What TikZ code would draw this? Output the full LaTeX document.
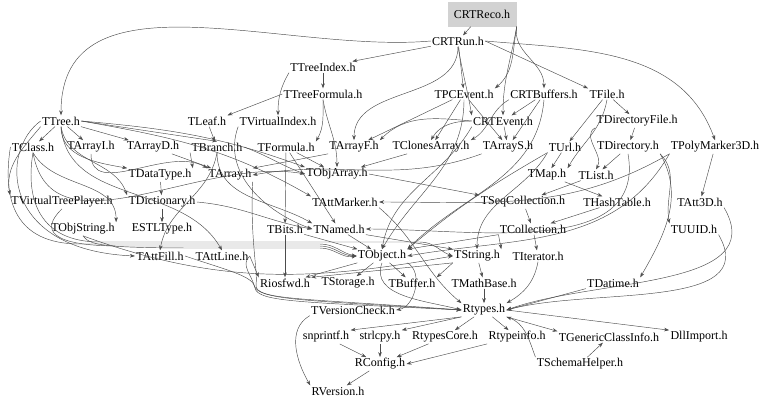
\documentclass[tikz,border=0pt]{standalone}
\usepackage{fontspec}
\setmainfont{Liberation Serif}
\usetikzlibrary{arrows.meta}
\begin{document}
\begin{tikzpicture}[x=1pt,y=-1pt,
  hdr/.style={inner sep=1.2pt, font=\fontsize{12}{13}\selectfont},
  e/.style={draw=black!70, line width=0.45pt, -{Stealth[length=5pt,width=3.6pt]}}]
\useasboundingbox (0,0) rectangle (768,405);
% nodes
\node[hdr, fill=gray!35, minimum width=69pt, minimum height=25pt] (crtreco) at (482,14) {CRTReco.h};
\node[hdr] (crtrun) at (458,41) {CRTRun.h};
\node[hdr] (ttreeindex) at (323,67) {TTreeIndex.h};
\node[hdr] (ttreeformula) at (323,94) {TTreeFormula.h};
\node[hdr] (tpcevent) at (464,94) {TPCEvent.h};
\node[hdr] (crtbuffers) at (544,94) {CRTBuffers.h};
\node[hdr] (tfile) at (607,94) {TFile.h};
\node[hdr] (ttree) at (61,121) {TTree.h};
\node[hdr] (tleaf) at (207,121) {TLeaf.h};
\node[hdr] (tvirtualindex) at (278,121) {TVirtualIndex.h};
\node[hdr] (crtevent) at (503,121) {CRTEvent.h};
\node[hdr] (tdirectoryfile) at (637,121) {TDirectoryFile.h};
\node[hdr] (tclass) at (33,147) {TClass.h};
\node[hdr] (tarrayi) at (91,147) {TArrayI.h};
\node[hdr] (tarrayd) at (153,147) {TArrayD.h};
\node[hdr] (tbranch) at (217,147) {TBranch.h};
\node[hdr] (tformula) at (286,147) {TFormula.h};
\node[hdr] (tarrayf) at (354,147) {TArrayF.h};
\node[hdr] (tclonesarray) at (431,147) {TClonesArray.h};
\node[hdr] (tarrays) at (508,147) {TArrayS.h};
\node[hdr] (turl) at (565,147) {TUrl.h};
\node[hdr] (tdirectory) at (628,147) {TDirectory.h};
\node[hdr] (tpolymarker) at (715,147) {TPolyMarker3D.h};
\node[hdr] (tdatatype) at (160,175) {TDataType.h};
\node[hdr] (tarray) at (230,175) {TArray.h};
\node[hdr] (tobjarray) at (337,174) {TObjArray.h};
\node[hdr] (tmap) at (547,175) {TMap.h};
\node[hdr] (tlist) at (596,175) {TList.h};
\node[hdr] (tvirtualtreeplayer) at (62,202) {TVirtualTreePlayer.h};
\node[hdr] (tdictionary) at (162,202) {TDictionary.h};
\node[hdr] (tattmarker) at (345,202) {TAttMarker.h};
\node[hdr] (tseqcollection) at (523,202) {TSeqCollection.h};
\node[hdr] (thashtable) at (617,202) {THashTable.h};
\node[hdr] (tatt3d) at (700,202) {TAtt3D.h};
\node[hdr] (tobjstring) at (83,229) {TObjString.h};
\node[hdr] (estltype) at (162,229) {ESTLType.h};
\node[hdr] (tbits) at (285,229) {TBits.h};
\node[hdr] (tnamed) at (339,229) {TNamed.h};
\node[hdr] (tcollection) at (533,229) {TCollection.h};
\node[hdr] (tuuid) at (694,229) {TUUID.h};
\node[hdr] (tattfill) at (160,256) {TAttFill.h};
\node[hdr] (tattline) at (222,256) {TAttLine.h};
\node[hdr] (tobject) at (382,256) {TObject.h};
\node[hdr] (tstring) at (477,256) {TString.h};
\node[hdr] (titerator) at (538,256) {TIterator.h};
\node[hdr] (riosfwd) at (285,283) {Riosfwd.h};
\node[hdr] (tstorage) at (348,283) {TStorage.h};
\node[hdr] (tbuffer) at (412,283) {TBuffer.h};
\node[hdr] (tmathbase) at (484,283) {TMathBase.h};
\node[hdr] (tdatime) at (613,283) {TDatime.h};
\node[hdr] (tversioncheck) at (353,310) {TVersionCheck.h};
\node[hdr] (rtypes) at (484,310) {Rtypes.h};
\node[hdr] (snprintf) at (326,337) {snprintf.h};
\node[hdr] (strlcpy) at (380,337) {strlcpy.h};
\node[hdr] (rtypescore) at (445,337) {RtypesCore.h};
\node[hdr] (rtypeinfo) at (517,337) {Rtypeinfo.h};
\node[hdr] (tgenericclassinfo) at (609,337) {TGenericClassInfo.h};
\node[hdr] (dllimport) at (699,337) {DllImport.h};
\node[hdr] (rconfig) at (380,364) {RConfig.h};
\node[hdr] (tschemahelper) at (580,364) {TSchemaHelper.h};
\node[hdr] (rversion) at (338,391) {RVersion.h};
% edges: top
\draw[e] (crtreco) -- (crtrun);
\draw[e] (crtreco.south east) to[out=-100,in=90] (crtbuffers.north);
\draw[e] (crtreco.south east) to[out=-100,in=40] (tpcevent.north east);
\draw[e] (crtreco.south east) to[out=-100,in=90] (crtevent.north);
\draw[e] (crtrun.west) to[out=185,in=90] (ttree.north);
\draw[e] (crtrun) -- (ttreeindex);
\draw[e] (crtrun) -- (tpcevent);
\draw[e] (crtrun.east) -- (tfile.north west);
\draw[e] (crtrun.east) to[out=-5,in=110] (tpolymarker.north);
\draw[e] (crtrun.south) to[out=-90,in=90] (tarrayf.north);
\draw[e] (crtrun.south) to[out=-80,in=100] (crtevent.north west);
\draw[e] (ttreeindex) -- (ttreeformula);
\draw[e] (ttreeindex.south west) to[out=-120,in=90] (tvirtualindex.north);
\draw[e] (ttreeformula.west) -- (tleaf.north east);
\draw[e] (ttreeformula.south) to[out=-90,in=60] (tformula.north east);
\draw[e] (ttreeformula.south) to[out=-80,in=90] (tobjarray.north);
% TTree
\draw[e] (ttree) -- (tclass);
\draw[e] (ttree) -- (tarrayi);
\draw[e] (ttree) -- (tarrayd);
\draw[e] (ttree.east) -- (tbranch.north);
\draw[e] (ttree.east) to[out=-5,in=160] (tobjarray.north west);
\draw[e] (ttree.south) to[out=-90,in=170] (tdatatype.north west);
\draw[e] (ttree.south west) to[out=-130,in=100] (tvirtualtreeplayer.north west);
\draw[e] (ttree.south) to[out=-80,in=110] (tdictionary.north west);
\draw[e] (ttree.east) to[out=-10,in=150] (tattmarker.north west);
\draw[e] (ttree.west) .. controls (0,150) and (0,250) .. (tattfill.west);
\draw[e] (ttree.south) to[out=-85,in=120] (tattline.north);
\draw[e] (tclass.west) .. controls (2,200) and (15,244) .. (80,244) -- (320,244) to[out=0,in=170] (tobject.west);
\draw[e] (tclass.south) to[out=-80,in=170] (tobjarray.west);
\draw[e] (tclass.south) to[out=-60,in=90] (tobjstring.north east);
\draw[e] (tclass.south) .. controls (25,200) and (40,242) .. (100,242) -- (420,242) to[out=0,in=160] (tstring.west);
\draw[e] (tleaf) -- (tbranch);
\draw[e] (tvirtualindex.south west) to[out=-110,in=160] (tnamed.west);
% events
\draw[e] (tpcevent) -- (tarrayf);
\draw[e] (tpcevent) -- (tclonesarray);
\draw[e] (tpcevent) -- (tarrays);
\draw[e] (tpcevent.south) to[out=-90,in=60] (tobject.north);
\draw[e] (crtbuffers) -- (crtevent);
\draw[e] (crtbuffers) -- (tarrays);
\draw[e] (crtbuffers.south west) to[out=-150,in=30] (tclonesarray.north east);
\draw[e] (crtbuffers.south) to[out=-95,in=45] (tobject.north east);
\draw[e] (crtevent) -- (tarrays);
\draw[e] (crtevent.west) to[out=180,in=60] (tclonesarray.north);
\draw[e] (crtevent.west) to[out=175,in=45] (tarrayf.north east);
\draw[e] (crtevent.south west) to[out=-120,in=80] (tobject.north);
% file
\draw[e] (tfile) -- (tdirectoryfile);
\draw[e] (tfile) -- (turl);
\draw[e] (tfile.south) to[out=-100,in=60] (tmap.north east);
\draw[e] (tdirectoryfile) -- (tdirectory);
\draw[e] (tdirectoryfile.south west) to[out=-150,in=60] (tlist.north);
\draw[e] (tdirectory) -- (tlist);
\draw[e] (tdirectory.south east) to[out=-60,in=60] (tdatime.north east);
\draw[e] (tdirectory.south east) to[out=-45,in=100] (tuuid.north west);
\draw[e] (tdirectory.south) to[out=-80,in=0] (tnamed.east);
\draw[e] (tpolymarker.south west) to[out=-150,in=0] (tattmarker.east);
\draw[e] (tpolymarker) -- (tatt3d);
\draw[e] (tpolymarker.south west) to[out=-120,in=10] (tobject.east);
% arrays
\draw[e] (tarrayi.south) to[out=-90,in=150] (tarray.north west);
\draw[e] (tarrayd) -- (tarray);
\draw[e] (tarrayf.south west) -- (tarray.north east);
\draw[e] (tarrays.south west) to[out=-160,in=10] (tarray.east);
\draw[e] (tbranch.east) to[out=-20,in=160] (tobjarray.west);
\draw[e] (tbranch.south) to[out=-90,in=150] (tnamed.north west);
\draw[e] (tbranch.south) to[out=-100,in=80] (tattfill.north);
\draw[e] (tbranch.south west) -- (tdatatype.north east);
\draw[e] (tformula) -- (tbits);
\draw[e] (tformula) -- (tnamed);
\draw[e] (tformula) -- (tobjarray);
\draw[e] (tclonesarray) -- (tobjarray);
\draw[e] (turl.south west) to[out=-150,in=40] (tobject.north east);
\draw[e] (turl.south west) to[out=-120,in=90] (tstring.north);
\draw[e] (turl) -- (tmap);
\draw[e] (tdatatype) -- (tdictionary);
\draw[e] (tarray.south east) .. controls (250,240) and (258,270) .. (256,285) .. controls (255,300) and (300,298) .. (rtypes.west);
\draw[e] (tobjarray.east) -- (tseqcollection.north west);
\draw[e] (tmap) -- (thashtable);
\draw[e] (tlist) -- (tseqcollection);
\draw[e] (tdictionary.east) to[out=-5,in=170] (tnamed.west);
\draw[e] (tdictionary) -- (estltype);
\draw[e] (tvirtualtreeplayer.south) .. controls (40,230) and (50,246) .. (120,246) -- (320,246) to[out=0,in=180] (tobject.west);
\draw[e] (tattmarker.south east) to[out=-40,in=140] (rtypes.north west);
\draw[e] (tseqcollection) -- (tcollection);
\draw[e] (thashtable) -- (tcollection);
\draw[e] (tatt3d.south east) to[out=-60,in=20] (rtypes.east);
\draw[e] (tobjstring.south) .. controls (90,245) and (100,248) .. (200,248) -- (320,248) to[out=0,in=190] (tobject.west);
\draw[e] (tobjstring.south) to[out=-20,in=190] (tstring.west);
\draw[e] (tbits) -- (tobject);
\draw[e] (tbits) -- (riosfwd);
\draw[e] (tnamed) -- (tobject);
\draw[e] (tnamed.south east) -- (tstring.north west);
\draw[e] (tcollection.south west) -- (tobject.north east);
\draw[e] (tcollection) -- (titerator);
\draw[e] (tcollection.south west) -- (tstring.north east);
\draw[e] (tuuid.south east) to[out=-60,in=15] (rtypes.east);
\draw[e] (tattfill.east) .. controls (220,268) and (250,275) .. (254,285) .. controls (258,300) and (300,300) .. (rtypes.west);
\draw[e] (tattline.east) .. controls (240,265) and (252,275) .. (255,288) .. controls (258,302) and (300,302) .. (rtypes.west);
\draw[e] (tattline.east) -- (riosfwd.north west);
% bottom
\draw[e] (tobject) -- (riosfwd);
\draw[e] (tobject) -- (tstorage);
\draw[e] (tobject) -- (tbuffer);
\draw[e] (tobject.south east) to[out=-30,in=10] (tversioncheck.east);
\draw[e] (tobject.south) to[out=-110,in=165] (rtypes.west);
\draw[e] (tstring) -- (tmathbase);
\draw[e] (tstring.south west) -- (riosfwd.north east);
\draw[e] (tstring.south west) -- (tbuffer.north east);
\draw[e] (titerator.south) to[out=-100,in=30] (rtypes.north east);
\draw[e] (tmathbase) -- (rtypes);
\draw[e] (tdatime.south west) -- (rtypes.east);
\draw[e] (tversioncheck.south west) to[out=-150,in=120] (rversion.north west);
\draw[e] (rtypes.south west) -- (snprintf.north east);
\draw[e] (rtypes.south west) -- (strlcpy.north east);
\draw[e] (rtypes) -- (rtypescore);
\draw[e] (rtypes) -- (rtypeinfo);
\draw[e] (rtypes.south east) -- (tgenericclassinfo.north west);
\draw[e] (rtypes.east) -- (dllimport.north west);
\draw[e] (snprintf) -- (rconfig);
\draw[e] (strlcpy) -- (rconfig);
\draw[e] (rtypescore) -- (rconfig);
\draw[e] (rtypeinfo.south west) -- (rconfig.east);
\draw[e] (rconfig) -- (rversion);
\draw[e] (tschemahelper) -- (tgenericclassinfo);
\draw[e] (tschemahelper.north west) to[out=110,in=-20] (rtypes.south east);
\end{tikzpicture}
\end{document}
